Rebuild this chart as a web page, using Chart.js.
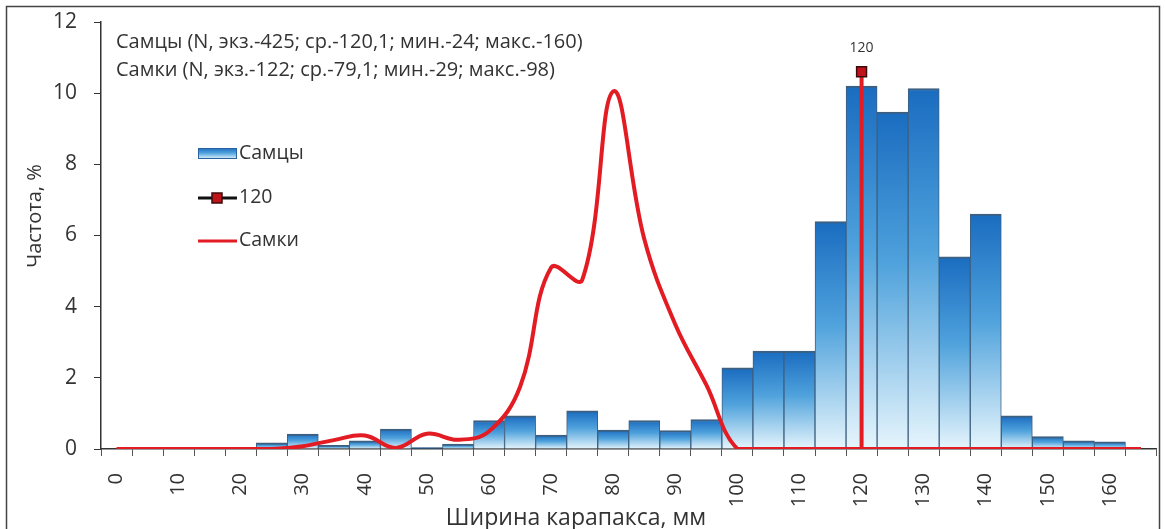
<!DOCTYPE html>
<html>
<head>
<meta charset="utf-8">
<script src="https://cdn.jsdelivr.net/npm/chart.js@4"></script>
<style>
  html, body { margin: 0; padding: 0; background: #fff; }
  #wrap { width: 1165px; height: 529px; position: relative; }
</style>
</head>
<body>
<div id="wrap"><canvas id="chart" width="1165" height="529"></canvas></div>
<script>
// categories: carapace width bins, 5 mm each
var widths = ["0","5","10","15","20","25","30","35","40","45","50","55","60","65","70","75","80",
              "85","90","95","100","105","110","115","120","125","130","135","140","145","150","155","160","165"];

// males, % per bin
var males = [0, 0, 0, 0, 0, 0.17, 0.42, 0.1, 0.23, 0.56, 0.04, 0.14, 0.8, 0.93, 0.39, 1.07, 0.53,
             0.8, 0.52, 0.83, 2.28, 2.75, 2.75, 6.39, 10.2, 9.47, 10.13, 5.4, 6.6, 0.93, 0.35, 0.23, 0.2, 0];

// females, % per bin (smoothed line)
var females = [0, 0, 0, 0, 0, 0, 0.08, 0.25, 0.38, 0.03, 0.43, 0.26, 0.5, 1.75, 5.1, 4.75, 10.05,
               5.9, 3.5, 1.8, 0, 0, 0, 0, 0, 0, 0, 0, 0, 0, 0, 0, 0, 0];

// marker line at 120 mm
var markX = "120";
var markY = [0, 10.6];

var noteMales = "Самцы (N, экз.-425; ср.-120,1; мин.-24; макс.-160)";
var noteFemales = "Самки (N, экз.-122; ср.-79,1; мин.-29; макс.-98)";
var yTitle = "Частота, %";
var xTitle = "Ширина карапакса, мм";

var FONT = "'Open Sans', 'DejaVu Sans', sans-serif";
var TXT = "#333";
var RED = "#e31b23";

function barGradient(c, top, base) {
    var g = c.createLinearGradient(0, top, 0, base);
    g.addColorStop(0, "#1a6cc0");
    g.addColorStop(0.45, "#4fa2dc");
    g.addColorStop(1, "#e6f5fc");
    return g;
}

// text, legend and frame
var decor = {
    id: "decor",
    afterDraw: function (chart) {
        var c = chart.ctx;
        c.save();
        // frame
        c.strokeStyle = "#444";
        c.lineWidth = 1.5;
        c.strokeRect(6.5, 6.5, 1153, 560);

        c.fillStyle = TXT;
        c.textBaseline = "middle";
        c.textAlign = "left";
        c.font = "20px " + FONT;
        c.fillText(noteMales, 116, 42);
        c.fillText(noteFemales, 116, 70);

        // legend
        var lx = 198, tx = 239;
        c.fillStyle = barGradient(c, 148, 159);
        c.fillRect(lx, 148, 39, 11);
        c.strokeStyle = "#2a62a0";
        c.lineWidth = 1;
        c.strokeRect(lx + 0.5, 148.5, 38, 10);

        c.strokeStyle = "#111";
        c.lineWidth = 3;
        c.beginPath(); c.moveTo(lx, 198); c.lineTo(lx + 39, 198); c.stroke();
        c.fillStyle = "#c0121a";
        c.fillRect(lx + 14, 193, 10, 10);
        c.strokeStyle = "#3b0b0b";
        c.lineWidth = 1.5;
        c.strokeRect(lx + 14, 193, 10, 10);

        c.strokeStyle = RED;
        c.lineWidth = 3;
        c.beginPath(); c.moveTo(lx, 241); c.lineTo(lx + 39, 241); c.stroke();

        c.fillStyle = TXT;
        c.font = "19.5px " + FONT;
        c.fillText(chart.data.datasets[0].label, tx, 153);
        c.fillText(chart.data.datasets[2].label, tx, 197);
        c.fillText(chart.data.datasets[1].label, tx, 240);

        // label over the 120 marker
        var pt = chart.getDatasetMeta(2).data[1];
        c.textAlign = "center";
        c.font = "14px " + FONT;
        c.fillText(markX, pt.x, pt.y - 24);

        // axis titles
        c.font = "23px " + FONT;
        c.textBaseline = "alphabetic";
        c.fillText(xTitle, 576, 525);
        c.translate(41, 216);
        c.rotate(-Math.PI / 2);
        c.font = "20px " + FONT;
        c.fillText(yTitle, 0, 0);
        c.restore();
    }
};

new Chart(document.getElementById("chart"), {
    data: {
        labels: widths,
        datasets: [{
            type: "bar",
            label: "Самцы",
            data: males,
            order: 3,
            categoryPercentage: 1,
            barPercentage: 1,
            backgroundColor: function (ctx) {
                var ch = ctx.chart, y = ch.scales.y;
                if (!y || !ch.chartArea) return "#3a8fd6";
                var top = y.getPixelForValue(ctx.raw), base = y.getPixelForValue(0);
                if (base - top < 2) return "#1f6fbf";
                return barGradient(ch.ctx, top, base);
            },
            borderColor: "#3d5f80",
            borderWidth: { top: 2, left: 1, right: 1, bottom: 0 },
            borderSkipped: "bottom"
        }, {
            type: "line",
            label: "Самки",
            data: females,
            order: 2,
            borderColor: RED,
            borderWidth: 4,
            tension: 0.4,
            pointRadius: 0,
            fill: false
        }, {
            type: "line",
            label: markX,
            data: [{ x: markX, y: markY[0] }, { x: markX, y: markY[1] }],
            order: 1,
            borderColor: RED,
            borderWidth: 4,
            pointStyle: "rect",
            pointRadius: function (ctx) { return ctx.dataIndex === 1 ? 7 : 0; },
            pointBackgroundColor: "#c0121a",
            pointBorderColor: "#3b0b0b",
            pointBorderWidth: 1.5,
            fill: false
        }]
    },
    options: {
        responsive: false,
        animation: false,
        layout: { padding: { left: 0, right: -5, top: 22, bottom: 0 } },
        plugins: { legend: { display: false }, tooltip: { enabled: false } },
        scales: {
            x: {
                type: "category",
                offset: true,
                grid: { offset: true, drawOnChartArea: false, tickLength: 7, color: "#555", tickWidth: 1 },
                border: { display: true, color: "#333", width: 1.5 },
                ticks: {
                    autoSkip: false,
                    minRotation: 90,
                    maxRotation: 90,
                    padding: 17,
                    color: TXT,
                    font: { family: FONT, size: 20 },
                    callback: function (v, i) {
                        return (i % 2 === 0 && i < 33) ? this.getLabelForValue(v) : "";
                    }
                },
                afterFit: function (s) {
                    s.height = 80;
                    s.paddingLeft = 0;
                    s.paddingRight = 0;
                }
            },
            y: {
                min: 0,
                max: 12,
                ticks: { stepSize: 2, padding: 17, color: TXT, font: { family: FONT, size: 21 } },
                grid: { drawOnChartArea: false, tickLength: 7, color: "#333" },
                border: { display: true, color: "#333", width: 1.5 },
                afterFit: function (s) {
                    s.width = 101;
                    s.paddingTop = 0;
                    s.paddingBottom = 0;
                }
            }
        }
    },
    plugins: [decor]
});
</script>
</body>
</html>
